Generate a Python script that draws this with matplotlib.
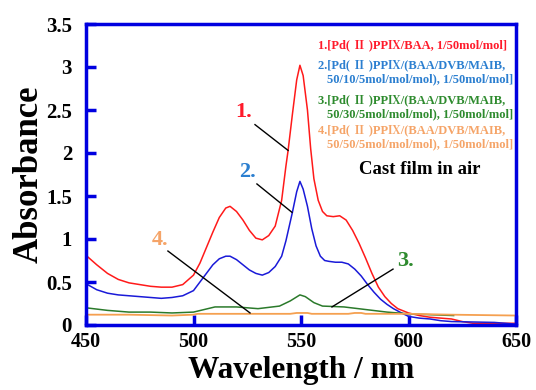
import matplotlib
matplotlib.use("Agg")
import matplotlib.pyplot as plt

# ---------------- data ----------------
wl_red = [450, 455, 460, 465, 470, 475, 480, 485, 490, 495, 500, 503, 506, 509, 512, 515, 517,
          520, 523, 526, 529, 532, 535, 538, 541, 543, 544, 546, 548, 549.5, 551, 553, 554.5,
          556, 558, 560, 562, 565, 568, 571, 574, 577, 580, 583, 586, 589, 592, 595, 600, 605,
          610, 615, 620, 625, 630, 650]
abs_red = [0.81, 0.70, 0.60, 0.53, 0.49, 0.47, 0.45, 0.44, 0.44, 0.47, 0.58, 0.72, 0.90, 1.08,
           1.25, 1.36, 1.38, 1.32, 1.22, 1.10, 1.01, 0.99, 1.04, 1.15, 1.45, 1.85, 2.03, 2.45,
           2.85, 3.02, 2.90, 2.50, 2.05, 1.70, 1.45, 1.32, 1.27, 1.26, 1.27, 1.22, 1.10, 0.95,
           0.78, 0.60, 0.44, 0.33, 0.25, 0.19, 0.14, 0.11, 0.09, 0.08, 0.07, 0.04, 0.02, 0.02]

wl_blue = [450, 455, 460, 465, 470, 475, 480, 485, 490, 495, 500, 503, 506, 509, 512, 515, 517,
           520, 523, 526, 529, 532, 535, 538, 541, 543, 545, 546, 548, 549.5, 551, 553, 555,
           557, 559, 561, 563, 566, 569, 572, 575, 578, 581, 584, 587, 590, 593, 596, 600, 605,
           610, 615, 620, 630, 640, 645, 650]
abs_blue = [0.48, 0.41, 0.37, 0.35, 0.34, 0.33, 0.32, 0.31, 0.32, 0.34, 0.40, 0.50, 0.60, 0.70,
            0.77, 0.80, 0.80, 0.76, 0.70, 0.64, 0.60, 0.58, 0.61, 0.68, 0.80, 0.98, 1.20, 1.31,
            1.55, 1.67, 1.58, 1.38, 1.12, 0.92, 0.80, 0.75, 0.74, 0.73, 0.73, 0.71, 0.65, 0.57,
            0.47, 0.38, 0.30, 0.24, 0.19, 0.15, 0.10, 0.08, 0.07, 0.05, 0.04, 0.035, 0.03, 0.02,
            0.01]

wl_green = [450, 460, 470, 480, 490, 500, 505, 510, 520, 530, 540, 545, 549.5, 552, 556, 560,
            570, 580, 590, 600, 610, 621]
abs_green = [0.20, 0.17, 0.15, 0.15, 0.14, 0.15, 0.18, 0.21, 0.21, 0.19, 0.22, 0.28, 0.35, 0.33,
             0.26, 0.22, 0.21, 0.18, 0.15, 0.13, 0.12, 0.11]

wl_orange = [450, 470, 490, 500, 502, 520, 545, 548, 553, 555, 572, 575, 578, 580, 600, 620, 650]
abs_orange = [0.12, 0.12, 0.11, 0.12, 0.13, 0.13, 0.13, 0.14, 0.14, 0.13, 0.13, 0.14, 0.14,
              0.13, 0.13, 0.12, 0.11]

legend_lines = [
    ("1.[Pd( \u2161 )PP\u2168/BAA, 1/50mol/mol]", None),
    ("2.[Pd( \u2161 )PP\u2168/(BAA/DVB/MAIB,", "50/10/5mol/mol/mol), 1/50mol/mol]"),
    ("3.[Pd( \u2161 )PP\u2168/(BAA/DVB/MAIB,", "50/30/5mol/mol/mol), 1/50mol/mol]"),
    ("4.[Pd( \u2161 )PP\u2168/(BAA/DVB/MAIB,", "50/50/5mol/mol/mol), 1/50mol/mol]"),
]

x_ticks = [450, 500, 550, 600, 650]
y_ticks = [0, 0.5, 1, 1.5, 2, 2.5, 3, 3.5]
y_tick_labels = ["0", "0.5", "1", "1.5", "2", "2.5", "3", "3.5"]

# ---------------- style ----------------
W, H = 536, 390
SERIF = ["Liberation Serif", "Noto Serif CJK JP", "Noto Sans CJK JP", "DejaVu Serif"]
plt.rcParams['font.family'] = SERIF

c_red, c_blue, c_green, c_orange = "#ff1a1a", "#1a1ad8", "#2b7a2b", "#f5a050"
t_red, t_blue, t_green, t_orange = "#ff1a2a", "#2b7fd0", "#2e8b2e", "#f5a468"
spine_c = "#0000e0"

fig = plt.figure(figsize=(W / 100, H / 100), dpi=100)
ax = fig.add_axes([86 / W, 1 - 325 / H, (516 - 86) / W, (325 - 24) / H])

ax.plot(wl_red, abs_red, color=c_red, lw=1.1)
ax.plot(wl_blue, abs_blue, color=c_blue, lw=1.1)
ax.plot(wl_green, abs_green, color=c_green, lw=1.1)
ax.plot(wl_orange, abs_orange, color=c_orange, lw=1.3)

ax.set_xlim(450, 650)
ax.set_ylim(0, 3.5)
ax.set_xticks(x_ticks)
ax.set_yticks(y_ticks)
ax.set_yticklabels(y_tick_labels)
for s in ax.spines.values():
    s.set_color(spine_c)
    s.set_linewidth(2.5)
ax.tick_params(direction='in', length=7, width=2.5, color=spine_c)
ax.tick_params(axis='y', pad=10, labelsize=15)
ax.tick_params(axis='x', pad=5, labelsize=14.5)
for lab in ax.get_xticklabels() + ax.get_yticklabels():
    lab.set_fontweight('bold')

ax.set_xlabel("Wavelength / nm", fontsize=22.5, fontweight='bold')
ax.xaxis.set_label_coords(0.5, -0.102)
ax.set_ylabel("Absorbance", fontsize=25, fontweight='bold', labelpad=0)

# annotations
ann = [("1.", t_red, (523.5, 2.48), (528.6, 2.33), (544.0, 2.03)),
       ("2.", t_blue, (525.3, 1.78), (529.5, 1.64), (545.8, 1.31)),
       ("3.", t_green, (598.4, 0.74), (592.8, 0.65), (564.4, 0.21)),
       ("4.", t_orange, (484.4, 0.99), (488.1, 0.86), (526.3, 0.14))]
for txt, col, tpos, l0, l1 in ann:
    ax.text(tpos[0], tpos[1], txt, color=col, fontsize=16, fontweight='bold',
            ha='center', va='center')
    ax.plot([l0[0], l1[0]], [l0[1], l1[1]], color='black', lw=1.0)

# legend-like text block
def fx(px):
    return px / W

def fy(py):
    return 1 - py / H

cols = [t_red, t_blue, t_green, t_orange]
ys = [(45, None), (65, 79), (100, 114), (130, 144)]
for (l1, l2), col, (y1, y2) in zip(legend_lines, cols, ys):
    fig.text(fx(318), fy(y1), l1, color=col, fontsize=9, fontweight='bold',
             ha='left', va='center')
    if l2:
        fig.text(fx(327), fy(y2), l2, color=col, fontsize=9, fontweight='bold',
                 ha='left', va='center')

fig.text(fx(420), fy(170), "Cast film in air", color='black', fontsize=13.5,
         fontweight='bold', ha='center', va='center')

fig.savefig("out.png", dpi=100)
